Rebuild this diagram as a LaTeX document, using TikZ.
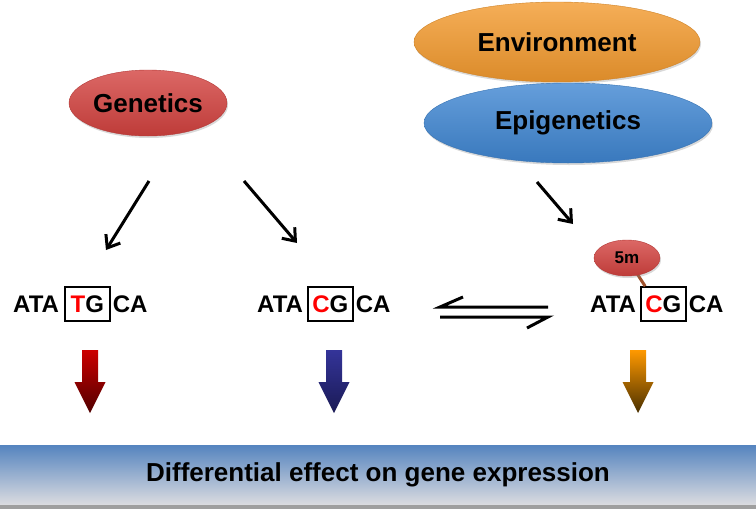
\documentclass[tikz,border=0pt]{standalone}
\usepackage{fontspec}
\setmainfont{Liberation Sans}
\usetikzlibrary{positioning,shapes.geometric,shadows,arrows.meta}

\definecolor{genred}{HTML}{D3423F}
\definecolor{envorange}{HTML}{F39A2E}
\definecolor{epiblue}{HTML}{3F86D2}
\definecolor{barblue}{HTML}{5584BF}
\definecolor{bargray}{HTML}{DCDCE0}
\definecolor{tether}{HTML}{A0522D}
\definecolor{hiRed}{HTML}{CC0000}
\definecolor{loRed}{HTML}{500000}
\definecolor{hiBlue}{HTML}{343499}
\definecolor{loBlue}{HTML}{1A1A55}
\definecolor{hiOrange}{HTML}{FF9900}
\definecolor{loOrange}{HTML}{4A3000}

\begin{document}
\begin{tikzpicture}[x=1pt,y=-1pt,
  blob/.style={ellipse, inner sep=0pt, font=\fontsize{26}{28}\selectfont\bfseries,
    drop shadow={shadow xshift=1pt,shadow yshift=-2pt,opacity=.3}},
  dna/.style={inner sep=0pt, font=\fontsize{24}{26}\selectfont\bfseries,
    text height=17pt, text depth=0pt},
  site/.style={dna, draw, line width=1.5pt, minimum width=45pt, minimum height=34pt},
  link/.style={line width=3pt, -{Straight Barb[length=11pt,width=17pt]}},
  eqline/.style={line width=3pt}
]

\useasboundingbox (0,0) rectangle (756,509);

% factors
\node [blob, minimum width=158pt, minimum height=66pt, draw=genred!85!black,
  top color=genred!80!white, middle color=genred, bottom color=genred!90!black]
  (genetics) at (148,103) {Genetics};
\node [blob, minimum width=286pt, minimum height=80pt, draw=envorange!85!black,
  top color=envorange!80!white, middle color=envorange, bottom color=envorange!90!black]
  (environment) at (557,42) {Environment};
\node [blob, minimum width=288pt, minimum height=80pt, draw=epiblue!85!black,
  top color=epiblue!80!white, middle color=epiblue, bottom color=epiblue!90!black]
  (epigenetics) at (568,123) {Epigenetics};

% sequences
\node [dna, anchor=west] (lata) at (13,304) {ATA};
\node [site, right=5pt of lata] (lsite) {\textcolor{red}{T}G};
\node [dna, right=2pt of lsite] (lca) {CA};

\node [dna, anchor=west] (mata) at (257,304) {ATA};
\node [site, right=4pt of mata] (msite) {\textcolor{red}{C}G};
\node [dna, right=2pt of msite] (mca) {CA};

\node [dna, anchor=west] (rata) at (590,304) {ATA};
\node [site, right=4pt of rata] (rsite) {\textcolor{red}{C}G};
\node [dna, right=2pt of rsite] (rca) {CA};

% methyl group
\draw [tether, line width=3pt] (636,272) -- ([xshift=5pt]rsite.north west);
\node [blob, minimum width=66pt, minimum height=36pt, font=\fontsize{17}{19}\selectfont\bfseries,
  draw=genred!85!black, top color=genred!80!white, middle color=genred,
  bottom color=genred!90!black] (meth) at (627,258) {5m};

% arrows
\coordinate (g1) at (149,181);
\coordinate (g2) at (244,181);
\coordinate (e1) at (537,182);
\coordinate (lend) at (106,250);
\coordinate (mend) at (297,243);
\coordinate (rend) at (573,224);
\draw [link] (g1) -- (lend);
\draw [link] (g2) -- (mend);
\draw [link] (e1) -- (rend);

% equilibrium
\coordinate (eqa) at (440,307);
\coordinate (eqb) at (548,307);
\coordinate (eqc) at (440,317);
\coordinate (eqd) at (548,317);
\draw [eqline] (eqb) -- (eqa) -- ++(23,-10);
\draw [eqline] (eqc) -- (eqd) -- ++(-21,11);

% outcome arrows
\foreach \x/\ct/\cb in {90/hiRed/loRed, 334/hiBlue/loBlue, 638/hiOrange/loOrange}
  \shade [top color=\ct, bottom color=\cb]
    ({\x-8},350) -- ({\x+8},350) -- ({\x+8},382) -- ({\x+15.5},382) -- (\x,413)
    -- ({\x-15.5},382) -- ({\x-8},382) -- cycle;

% effect bar
\node [minimum width=756pt, minimum height=60pt, inner sep=0pt,
  top color=barblue, middle color=barblue!30!bargray, bottom color=bargray,
  font=\fontsize{26}{28}\selectfont\bfseries] (effect) at (378,475)
  {Differential effect on gene expression};
\fill [gray!75] (0,505) rectangle (756,509);

\end{tikzpicture}
\end{document}
